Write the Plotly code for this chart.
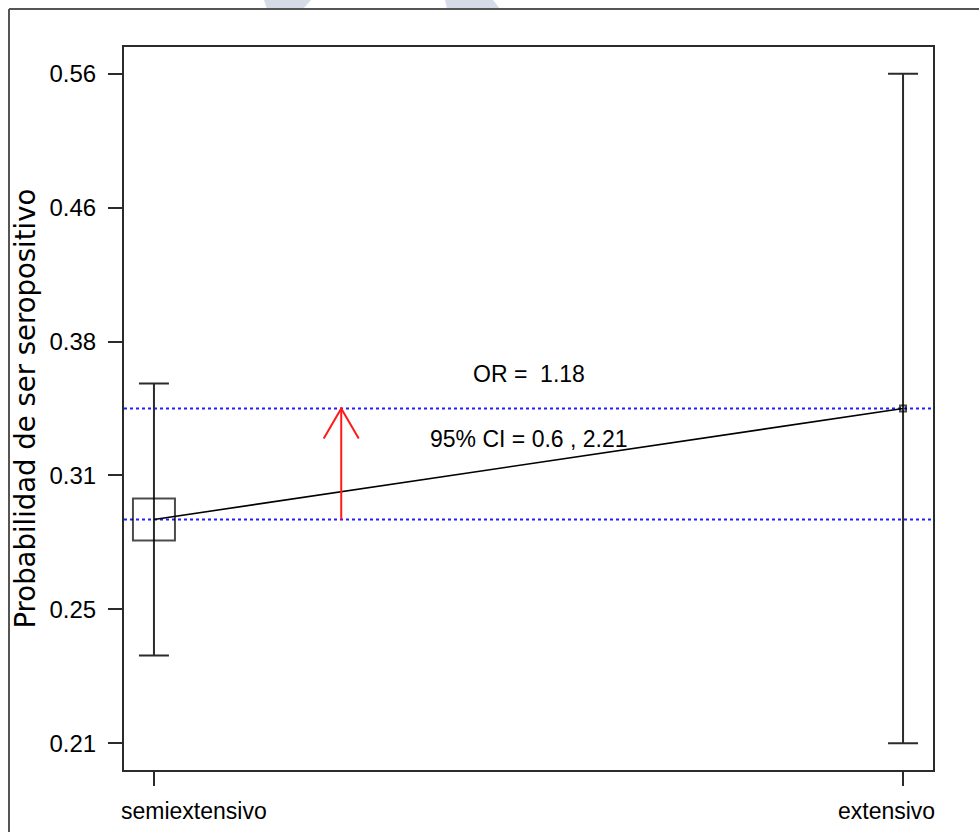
import numpy as np
import plotly.graph_objects as go

# Predicted probability of seropositivity by management system, with 95% CI
categories = ["semiextensivo", "extensivo"]
prob = [0.2899, 0.3414]
ci_low = [0.2373, 0.2085]
ci_high = [0.3542, 0.5590]
y_tick_labels = ["0.21", "0.25", "0.31", "0.38", "0.46", "0.56"]
odds_ratio = 1.18
or_ci = (0.6, 2.21)

# Figure geometry
W, H = 979, 832
ML, MR, MT, MB = 124, 46, 47, 62
PW, PH = W - ML - MR, H - MT - MB

x_pos = [i + 1 for i in range(len(categories))]
x_range = [x_pos[0] - 0.04 * (x_pos[-1] - x_pos[0]), x_pos[-1] + 0.04 * (x_pos[-1] - x_pos[0])]

lo, hi = np.log10(min(ci_low)), np.log10(max(ci_high))
span = hi - lo
y_range = [lo - 0.04 * span, hi + 0.04 * span]
tick_vals = list(10 ** np.linspace(lo, hi, len(y_tick_labels)))

def xp(px):
    return (px - ML) / PW

def yp(py):
    return (H - MB - py) / PH

ink = "#2b2b2b"
tick_font = dict(family="Liberation Sans, Arial, sans-serif", size=24, color="black")
text_font = dict(family="Liberation Sans, Arial, sans-serif", size=23, color="black")

fig = go.Figure()

# dotted reference lines at each group's probability
for p in prob:
    fig.add_trace(go.Scatter(
        x=x_range, y=[p, p], mode="lines",
        line=dict(color="#1f1fff", width=2, dash="dot"),
        hoverinfo="skip", showlegend=False, cliponaxis=False,
    ))

# confidence intervals with group markers (box size reflects group weight)
fig.add_trace(go.Scatter(
    x=x_pos, y=prob, mode="markers",
    marker=dict(symbol="square-open", size=[42, 6], color="black", line=dict(width=2, color="black")),
    error_y=dict(type="data", symmetric=False,
                 array=[h - p for h, p in zip(ci_high, prob)],
                 arrayminus=[p - l for p, l in zip(prob, ci_low)],
                 color=ink, thickness=2, width=15),
    hoverinfo="skip", showlegend=False,
))

# line joining the two group estimates
fig.add_trace(go.Scatter(
    x=x_pos, y=prob, mode="lines",
    line=dict(color="black", width=1.6),
    hoverinfo="skip", showlegend=False,
))

# red arrow showing the change in probability
arrow_x = x_pos[0] + 0.25 * (x_pos[1] - x_pos[0])
head_dx = 17.5 / PW * (x_range[1] - x_range[0])
head_dy = 30 / PH * (y_range[1] - y_range[0])
fig.add_trace(go.Scatter(
    x=[arrow_x, arrow_x], y=[prob[0], prob[1]], mode="lines",
    line=dict(color="#ff1a1a", width=2), hoverinfo="skip", showlegend=False,
))
fig.add_trace(go.Scatter(
    x=[arrow_x - head_dx, arrow_x, arrow_x + head_dx],
    y=[prob[1] * 10 ** (-head_dy), prob[1], prob[1] * 10 ** (-head_dy)],
    mode="lines", line=dict(color="#ff1a1a", width=2),
    hoverinfo="skip", showlegend=False,
))

shapes = []
# faint logo fragments along the top edge
shapes.append(dict(type="path", xref="paper", yref="paper",
                   path=f"M{xp(264)},{yp(0)} L{xp(311)},{yp(0)} L{xp(303)},{yp(9)} L{xp(267)},{yp(9)} Z",
                   fillcolor="#d6dbe8", line=dict(width=0), layer="below"))
shapes.append(dict(type="path", xref="paper", yref="paper",
                   path=f"M{xp(445)},{yp(0)} L{xp(493)},{yp(0)} L{xp(500)},{yp(9)} L{xp(447)},{yp(9)} Z",
                   fillcolor="#d6dbe8", line=dict(width=0), layer="below"))

# page frame
shapes.append(dict(type="line", xref="paper", yref="paper", x0=xp(9), x1=xp(9), y0=yp(9), y1=yp(H),
                   line=dict(color="#555555", width=2)))
shapes.append(dict(type="line", xref="paper", yref="paper", x0=xp(9), x1=xp(W), y0=yp(9), y1=yp(9),
                   line=dict(color="#555555", width=2)))

annotations = [
    dict(text=f"OR =  {odds_ratio}", x=0.5 * (x_pos[0] + x_pos[1]), xref="x",
         y=yp(374), yref="paper", showarrow=False, xanchor="center", yanchor="middle",
         font=text_font),
    dict(text=f"95% CI = {or_ci[0]} , {or_ci[1]}", x=0.5 * (x_pos[0] + x_pos[1]), xref="x",
         y=yp(439), yref="paper", showarrow=False, xanchor="center", yanchor="middle",
         font=text_font),
    dict(text="Probabilidad de ser seropositivo", textangle=-90,
         x=xp(24), xref="paper", y=0.5, yref="paper", showarrow=False,
         xanchor="center", yanchor="middle",
         font=dict(family="DejaVu Sans, sans-serif", size=27.5, color="black")),
]
# category labels kept inside the plot width
for i, c in enumerate(categories):
    first = i == 0
    annotations.append(dict(text=c, x=0 if first else 1, xref="paper",
                            xshift=-5 if first else 4,
                            y=yp(811), yref="paper", showarrow=False,
                            xanchor="left" if first else "right", yanchor="middle",
                            font=text_font))

fig.update_layout(
    width=W, height=H,
    margin=dict(l=ML, r=MR, t=MT, b=MB),
    paper_bgcolor="white", plot_bgcolor="white",
    showlegend=False,
    shapes=shapes, annotations=annotations,
    xaxis=dict(range=x_range, tickvals=x_pos, ticktext=["" for _ in categories],
               showgrid=False, zeroline=False, showline=True, mirror=True,
               linecolor=ink, linewidth=2, ticks="outside", ticklen=14,
               tickwidth=2, tickcolor=ink),
    yaxis=dict(type="log", range=y_range, tickvals=tick_vals, ticktext=y_tick_labels,
               showgrid=False, zeroline=False, showline=True, mirror=True,
               linecolor=ink, linewidth=2, ticks="outside", ticklen=14,
               tickwidth=2, tickcolor=ink, tickfont=tick_font, ticklabelstandoff=7),
)

fig.write_html("out.html")
